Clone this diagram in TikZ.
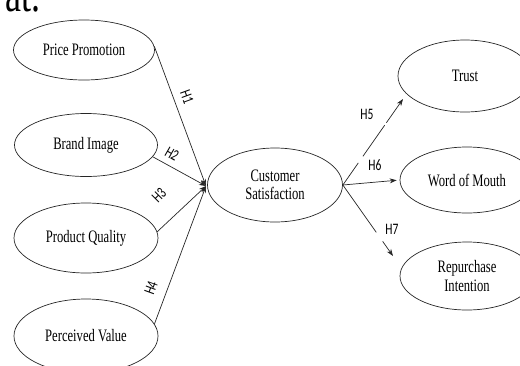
\documentclass[tikz,border=0pt]{standalone}
\usepackage{fontspec}
\setmainfont{Liberation Serif}[FakeStretch=0.72]
\newfontfamily\labfont{Carlito}[FakeStretch=0.72]
\usetikzlibrary{arrows.meta,shapes.geometric}
\begin{document}
\begin{tikzpicture}[x=1pt,y=-1pt,
  var/.style={ellipse, draw=black!85, line width=0.7pt, inner sep=0pt, align=center,
    font=\fontsize{17.5}{18.5}\selectfont},
  hyp/.style={font=\labfont\fontsize{16}{16}\selectfont, inner sep=0pt},
  link/.style={draw=black!85, line width=0.7pt, -{Stealth[length=7pt,width=5pt]}}]
\clip (0,0) rectangle (520,365);
\node[anchor=base west, inner sep=0pt, font=\fontsize{50}{50}\selectfont] (frag) at (5,11) {at.};
\node[var, minimum width=141pt, minimum height=60pt] (pp) at (84,50) {Price Promotion};
\node[var, minimum width=143pt, minimum height=63pt] (bi) at (86,145) {Brand Image};
\node[var, minimum width=144pt, minimum height=70pt] (pq) at (86,238) {Product Quality};
\node[var, minimum width=144pt, minimum height=74pt] (pv) at (86,336) {Perceived Value};
\node[var, minimum width=135pt, minimum height=74pt] (cs) at (275,185) {Customer\\Satisfaction};
\node[var, minimum width=134pt, minimum height=72pt] (tr) at (465,76) {Trust};
\node[var, minimum width=134pt, minimum height=66pt] (wm) at (467,180) {Word of Mouth};
\node[var, minimum width=134pt, minimum height=68pt] (ri) at (467,276) {Repurchase\\Intention};
\coordinate (J) at (206,186);
\draw[link] (pp.3) -- (J);
\draw[link] (bi.-10) -- (J);
\draw[link] (pq.5) -- (J);
\draw[link] (pv.10) -- (J);
\node[hyp, rotate=-70] (h1) at (187,97) {H1};
\node[hyp, rotate=-30] (h2) at (172,154) {H2};
\node[hyp, rotate=45] (h3) at (159,195) {H3};
\node[hyp, rotate=70] (h4) at (151,288) {H4};
\coordinate (e5) at (403,99);
\coordinate (e7) at (393,256);
\draw[link, dash pattern=on 27pt off 8pt on 38pt off 3pt on 60pt] (cs.east) -- (e5);
\draw[link, shorten >=3pt] (cs.east) -- (wm.west);
\draw[link, dash pattern=on 58pt off 11pt on 40pt] (cs.east) -- (e7);
\node[hyp] (h5) at (367,114) {H5};
\node[hyp] (h6) at (375,165) {H6};
\node[hyp] (h7) at (392,229) {H7};
\end{tikzpicture}
\end{document}
